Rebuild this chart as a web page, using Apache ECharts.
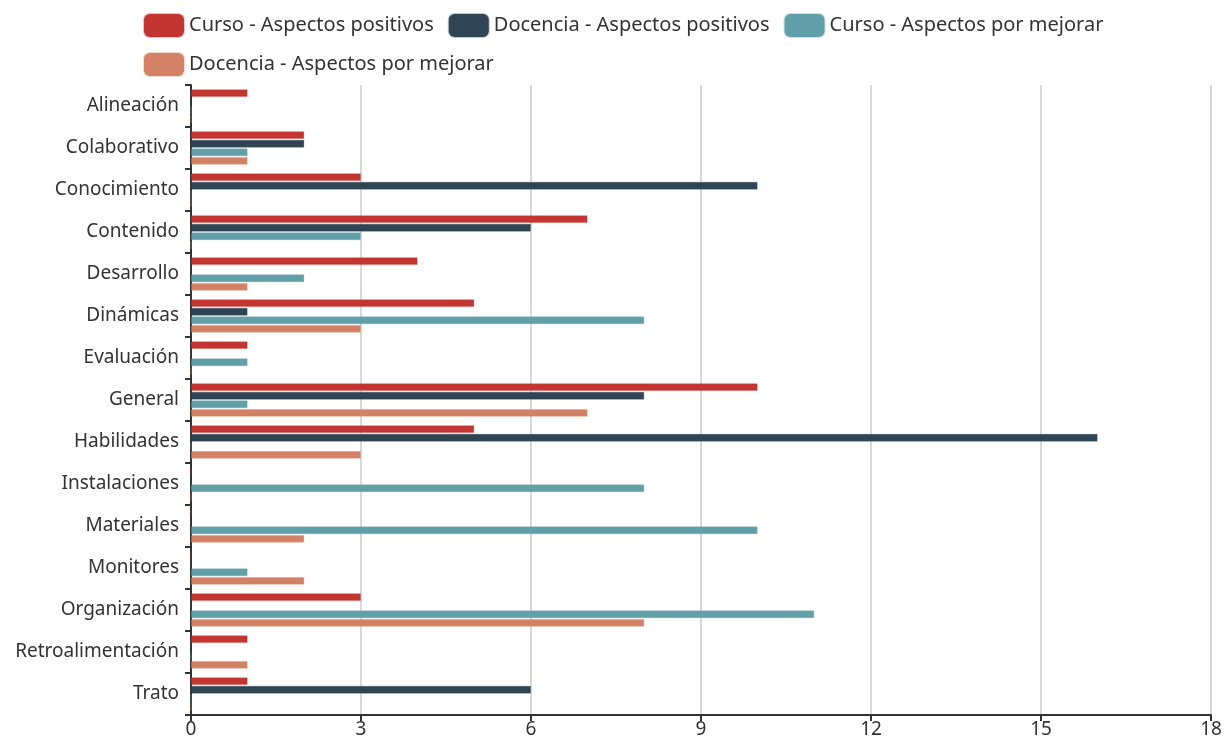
<!DOCTYPE html>
<html>
<head>
<meta charset="utf-8">
<script src="https://cdn.jsdelivr.net/npm/echarts@6/dist/echarts.min.js"></script>
<style>html,body{margin:0;padding:0;background:#fff;}#main{width:1230px;height:739px;}</style>
</head>
<body>
<div id="main"></div>
<script>
const categories = ["Alineación","Colaborativo","Conocimiento","Contenido","Desarrollo","Dinámicas","Evaluación","General","Habilidades","Instalaciones","Materiales","Monitores","Organización","Retroalimentación","Trato"];
const seriesNames = ["Curso - Aspectos positivos","Docencia - Aspectos positivos","Curso - Aspectos por mejorar","Docencia - Aspectos por mejorar"];
const cursoPositivos   = [1,2,3,7,4,5,1,10,5,0,0,0,3,1,1];
const docenciaPositivos= [0,2,10,6,0,1,0,8,16,0,0,0,0,0,6];
const cursoMejorar     = [0,1,0,3,2,8,1,1,0,8,10,1,11,0,0];
const docenciaMejorar  = [0,1,0,0,1,3,0,7,3,0,2,2,8,1,0];
const xTicks = [0,3,6,9,12,15,18];
const colors = ['#c23531','#2f4554','#61a0a8','#d48265'];
const borders = ['rgba(194,53,49,0.3)','rgba(47,69,84,0.3)','rgba(97,160,168,0.3)','rgba(212,130,101,0.3)'];
const FONT = 'Noto Sans';
const dataSets = [cursoPositivos, docenciaPositivos, cursoMejorar, docenciaMejorar];
const chart = echarts.init(document.getElementById('main'));
chart.setOption({
  animation:false,
  color: colors,
  textStyle:{fontFamily:FONT},
  legend:{
    top:8, left:138, width:1030,
    icon:'roundRect', itemWidth:40, itemHeight:23, itemGap:14,
    textStyle:{fontSize:20, color:'#333', fontFamily:FONT},
    data: seriesNames
  },
  grid:{left:191, right:19, top:85, bottom:24, containLabel:false},
  xAxis:{
    type:'value', min:xTicks[0], max:xTicks[xTicks.length-1], interval:3,
    axisLine:{show:true, lineStyle:{color:'#333', width:2}},
    axisTick:{show:true, lineStyle:{color:'#333', width:2}, length:6},
    axisLabel:{fontSize:19, color:'#333', fontFamily:FONT, margin:5},
    splitLine:{show:true, lineStyle:{color:'#ccc', width:1.5}}
  },
  yAxis:{
    type:'category', inverse:true, data:categories,
    axisLine:{show:true, lineStyle:{color:'#333', width:2}},
    axisTick:{show:true, lineStyle:{color:'#333', width:2}, length:6},
    axisLabel:{fontSize:19, color:'#333', fontFamily:FONT, margin:12}
  },
  series: seriesNames.map((n,i)=>({
    name:n, type:'bar', data:dataSets[i],
    barGap:'8%', barCategoryGap:'20%',
    itemStyle:{color:colors[i], borderColor:borders[i], borderWidth:1}
  }))
});
</script>
</body>
</html>
